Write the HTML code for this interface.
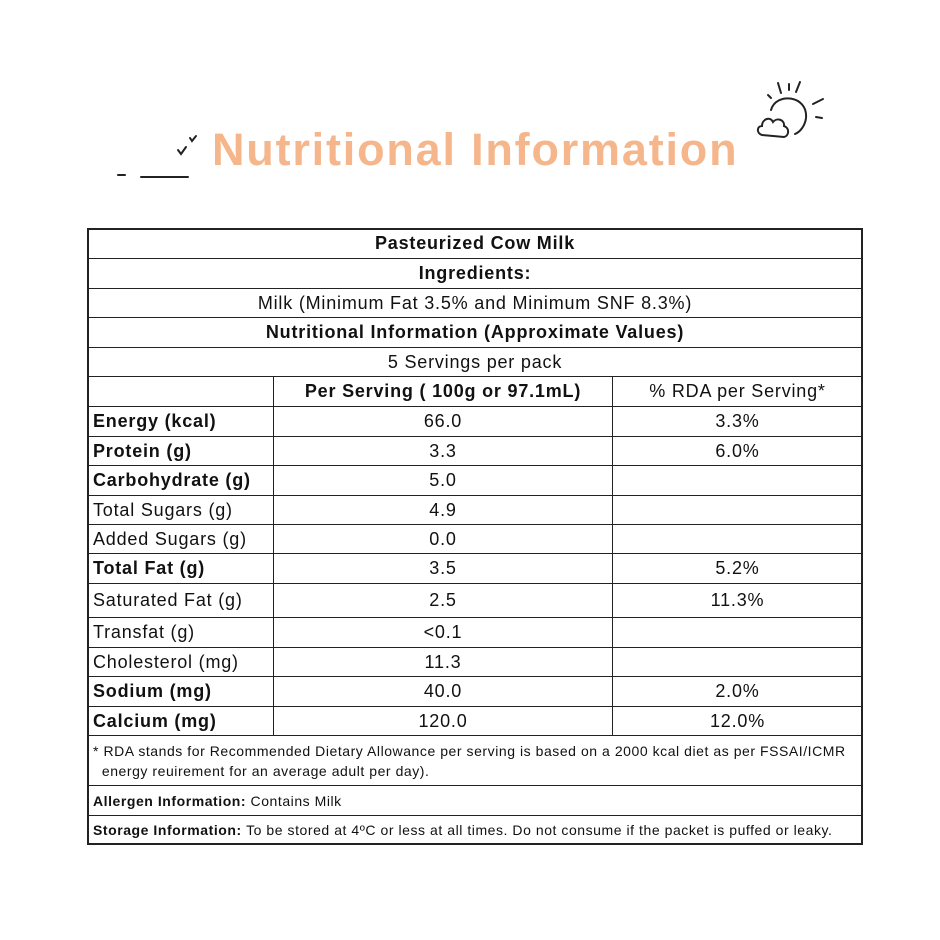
<!DOCTYPE html>
<html><head><style>
body{margin:0;background:#fff;width:940px;height:940px;position:relative;overflow:hidden;font-family:"Liberation Sans",sans-serif;color:#111}
.t{position:absolute;left:212px;top:124px;font-size:45px;font-weight:bold;color:#f6b68c;letter-spacing:1.8px;white-space:nowrap}
.c{position:absolute;box-sizing:border-box;border:1px solid #222;display:flex;align-items:center;font-size:18px;letter-spacing:0.8px;white-space:nowrap;overflow:hidden}
.m{justify-content:center}
.l{padding-left:5px}
b{font-weight:bold}
.s{font-size:14px;letter-spacing:0.55px}
.tb{position:absolute;left:87px;top:228px;width:776px;height:617px;border:2px solid #222;box-sizing:border-box}
</style></head><body>
<div class="t">Nutritional Information</div>
<svg style="position:absolute;left:0;top:0" width="940" height="200">
<g stroke="#222" stroke-width="2" fill="none" stroke-linecap="round">
<line x1="118" y1="175" x2="125" y2="175"/><line x1="141" y1="177" x2="188" y2="177"/>
<path d="M178 150 l3 4 l5 -7"/><path d="M190 138 l2 3 l4 -5"/>
<line x1="778" y1="83" x2="781" y2="93"/><line x1="789" y1="84" x2="789" y2="90"/><line x1="800" y1="82" x2="796" y2="92"/>
<line x1="813" y1="104" x2="823" y2="99"/><line x1="816" y1="117" x2="822" y2="118"/><line x1="768" y1="95" x2="771" y2="98"/>
<path d="M771 110 C776 92 808 95 806 118 C805 126 800 132 795 134"/>
<path d="M762 135 C756 133 757 126 762 126 C762 119 770 116 773 122 C777 117 785 120 784 126 C790 128 789 136 784 137 Z"/>
</g></svg>
<div class="tb"></div>
<div id="g"></div>
<script>
var rows=[
["Pasteurized Cow Milk",1,1],["Ingredients:",1,1],["Milk (Minimum Fat 3.5% and Minimum SNF 8.3%)",0,1],
["Nutritional Information (Approximate Values)",1,1],["5 Servings per pack",0,1],
["","Per Serving ( 100g or 97.1mL)","% RDA per Serving*",0],
["Energy (kcal)","66.0","3.3%",1],["Protein (g)","3.3","6.0%",1],["Carbohydrate (g)","5.0","",1],
["Total Sugars (g)","4.9","",0],["Added Sugars (g)","0.0","",0],["Total Fat (g)","3.5","5.2%",1],
["Saturated Fat (g)","2.5","11.3%",0],["Transfat (g)","<0.1","",0],["Cholesterol (mg)","11.3","",0],
["Sodium (mg)","40.0","2.0%",1],["Calcium (mg)","120.0","12.0%",1]];
var ys=[228,258,288,317,347,376,406,436,465,495,524,553,583,617,647,676,706,735];
var h="";
for(var i=0;i<rows.length;i++){var r=rows[i],y=ys[i],hh=ys[i+1]-y;
if(r.length==3){h+='<div class="c m" style="left:87px;top:'+y+'px;width:776px;height:'+(hh+1)+'px;'+(r[1]?'font-weight:bold':'')+'">'+r[0].replace('<','&lt;')+'</div>';}
else{h+='<div class="c l" style="left:87px;top:'+y+'px;width:187px;height:'+(hh+1)+'px;'+(r[3]?'font-weight:bold':'')+'">'+r[0]+'</div>';
h+='<div class="c m" style="left:273px;top:'+y+'px;width:340px;height:'+(hh+1)+'px;'+(i==5?'font-weight:bold':'')+'">'+r[1].replace('<','&lt;')+'</div>';
h+='<div class="c m" style="left:612px;top:'+y+'px;width:251px;height:'+(hh+1)+'px">'+r[2]+'</div>';}}
h+='<div class="c s" style="left:87px;top:735px;width:776px;height:51px;padding-left:5px;white-space:normal;line-height:20px;align-items:center"><div>* RDA stands for Recommended Dietary Allowance per serving is based on a 2000 kcal diet as per FSSAI/ICMR<br>&nbsp;&nbsp;energy reuirement for an average adult per day).</div></div>';
h+='<div class="c l s" style="left:87px;top:785px;width:776px;height:31px"><b>Allergen Information:</b>&nbsp;Contains Milk</div>';
h+='<div class="c l s" style="left:87px;top:815px;width:776px;height:30px"><b>Storage Information:</b>&nbsp;To be stored at 4ºC or less at all times. Do not consume if the packet is puffed or leaky.</div>';
document.getElementById("g").innerHTML=h;
</script>
</body></html>
